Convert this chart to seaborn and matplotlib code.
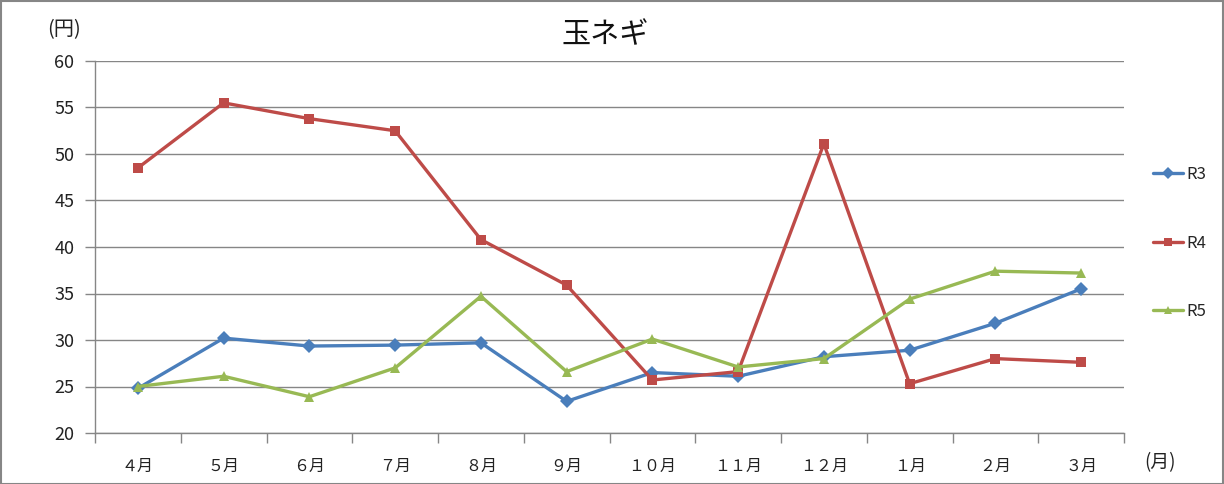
import matplotlib
matplotlib.use("Agg")
import matplotlib.pyplot as plt
import seaborn as sns
import pandas as pd
import numpy as np
from matplotlib.ticker import FixedLocator, NullFormatter
from matplotlib.lines import Line2D

months = ['４月', '５月', '６月', '７月', '８月', '９月', '１０月', '１１月', '１２月', '１月', '２月', '３月']
r3 = [24.8, 30.2, 29.35, 29.45, 29.7, 23.4, 26.5, 26.1, 28.2, 28.9, 31.8, 35.5]
r4 = [48.5, 55.5, 53.8, 52.5, 40.8, 35.9, 25.7, 26.6, 51.1, 25.3, 28.0, 27.6]
r5 = [25.0, 26.1, 23.9, 27.0, 34.7, 26.6, 30.1, 27.1, 28.0, 34.4, 37.4, 37.2]
series_names = ['R3', 'R4', 'R5']
y_ticks = [20, 25, 30, 35, 40, 45, 50, 55, 60]

sns.set_theme(style="white")
plt.rcParams['font.family'] = ['Noto Sans CJK JP', 'DejaVu Sans']

rows = []
for name, vals in zip(series_names, [r3, r4, r5]):
    for i, v in enumerate(vals):
        rows.append({'idx': i, 'value': v, 'series': name})
df = pd.DataFrame(rows)

palette = {'R3': '#4A7EBB', 'R4': '#BE4B48', 'R5': '#98B954'}
markers = {'R3': 'D', 'R4': 's', 'R5': '^'}

fig = plt.figure(figsize=(12.24, 4.84), dpi=100)
ax = fig.add_axes([95 / 1224, 1 - 433 / 484, (1124 - 95) / 1224, (433 - 61) / 484])

sns.lineplot(data=df, x='idx', y='value', hue='series', style='series',
             hue_order=series_names, style_order=series_names,
             palette=palette, markers=markers, dashes=False,
             linewidth=2.4, markersize=7, markeredgewidth=0,
             ax=ax, legend=False)

ax.set_xlim(-0.5, 11.5)
ax.set_ylim(20, 60)
ax.set_yticks(y_ticks)
ax.set_yticklabels([str(t) for t in y_ticks], fontsize=13, color='#222222')
ax.yaxis.grid(True, color='#868686', linewidth=1)
ax.set_axisbelow(True)

ax.set_xticks(range(12))
ax.set_xticklabels(months, fontsize=11.5, color='#222222')
ax.tick_params(axis='x', which='major', length=0, pad=18)
ax.xaxis.set_minor_locator(FixedLocator(np.arange(-0.5, 12, 1)))
ax.xaxis.set_minor_formatter(NullFormatter())
ax.tick_params(axis='x', which='minor', length=7, color='#868686', width=1, direction='out', bottom=True)
ax.tick_params(axis='y', which='major', length=7, color='#868686', width=1, direction='out', left=True, pad=8)

for s in ['top', 'right']:
    ax.spines[s].set_visible(False)
for s in ['left', 'bottom']:
    ax.spines[s].set_color('#868686')
    ax.spines[s].set_linewidth(1)

ax.set_xlabel('')
ax.set_ylabel('')

fig.text(605 / 1224, 1 - 35 / 484, '玉ネギ', ha='center', va='center', fontsize=21, color='#111111')
fig.text(64 / 1224, 1 - 30 / 484, '(円)', ha='center', va='center', fontsize=14.5, color='#222222')
fig.text(1160 / 1224, 1 - 463 / 484, '(月)', ha='center', va='center', fontsize=13.5, color='#222222')

handles = [Line2D([0], [0], color=palette[n], marker=markers[n], linewidth=2.4,
                  markersize=6, markeredgewidth=0) for n in series_names]
fig.legend(handles, series_names, loc='center left', bbox_to_anchor=(1138 / 1224, 1 - 243 / 484),
           frameon=False, fontsize=12, labelspacing=3.1, handlelength=1.8, handletextpad=0.2)

fig.patches.append(plt.Rectangle((0.0008, 0.001), 0.9984, 0.997, transform=fig.transFigure,
                                 fill=False, edgecolor='#868686', linewidth=1.5))

fig.savefig('out.png', dpi=100)
